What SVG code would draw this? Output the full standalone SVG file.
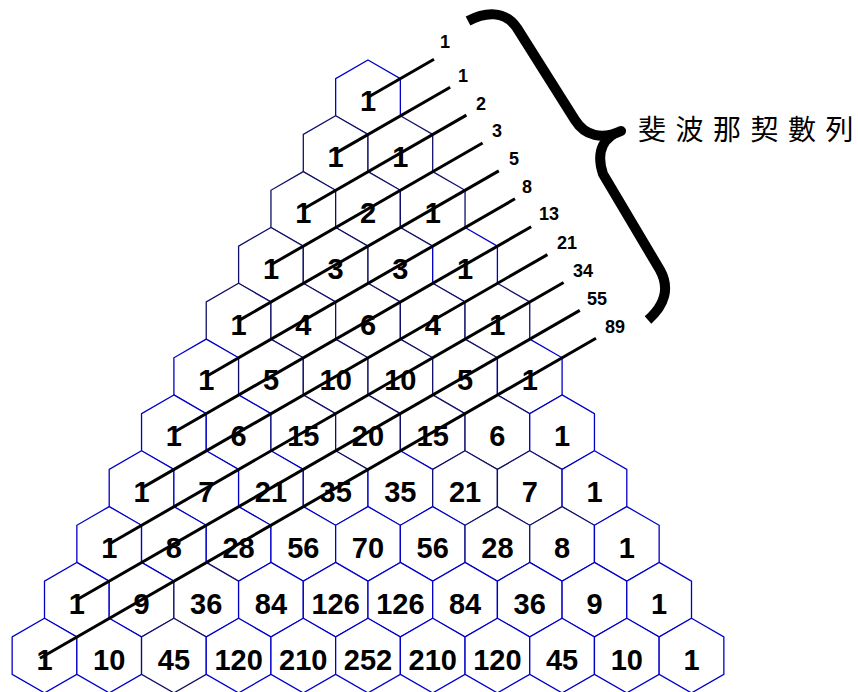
<svg xmlns="http://www.w3.org/2000/svg" xmlns:xlink="http://www.w3.org/1999/xlink" width="858" height="692" viewBox="0 0 858 692">
<style>
.hx{fill:#fff;stroke:#0000c8;stroke-width:1.3}
.hd{fill:#fff;stroke:#10106a;stroke-width:1.3}
.num{font-family:"Liberation Sans",Arial,sans-serif;font-weight:bold;font-size:29px;text-anchor:middle;fill:#000}
.fib{font-family:"Liberation Sans",Arial,sans-serif;font-weight:bold;font-size:18px;fill:#000}
.diag{stroke:#000;stroke-width:3;fill:none;stroke-linecap:butt}
.brace{stroke:#000;stroke-width:10;fill:none;stroke-linejoin:round;stroke-linecap:butt}
.title{font-family:"Noto Sans CJK TC","Noto Sans CJK SC",sans-serif;font-size:28px;fill:#000}
</style>
<defs>
<polygon id="hex" points="0,-37.35 32.35,-18.68 32.35,18.68 0,37.35 -32.35,18.68 -32.35,-18.68"/>
</defs>
<rect width="858" height="692" fill="#fff"/>
<g id="nodes">
<g id="n0-0"><use xlink:href="#hex" class="hx" x="368" y="97.3"/><text class="num" x="368" y="111.3">1</text></g>
<g id="n1-0"><use xlink:href="#hex" class="hd" x="335.65" y="153.13"/><text class="num" x="335.65" y="167.13">1</text></g>
<g id="n1-1"><use xlink:href="#hex" class="hd" x="400.35" y="153.13"/><text class="num" x="400.35" y="167.13">1</text></g>
<g id="n2-0"><use xlink:href="#hex" class="hd" x="303.3" y="208.96"/><text class="num" x="303.3" y="222.96">1</text></g>
<g id="n2-1"><use xlink:href="#hex" class="hd" x="368" y="208.96"/><text class="num" x="368" y="222.96">2</text></g>
<g id="n2-2"><use xlink:href="#hex" class="hd" x="432.7" y="208.96"/><text class="num" x="432.7" y="222.96">1</text></g>
<g id="n3-0"><use xlink:href="#hex" class="hd" x="270.95" y="264.79"/><text class="num" x="270.95" y="278.79">1</text></g>
<g id="n3-1"><use xlink:href="#hex" class="hd" x="335.65" y="264.79"/><text class="num" x="335.65" y="278.79">3</text></g>
<g id="n3-2"><use xlink:href="#hex" class="hd" x="400.35" y="264.79"/><text class="num" x="400.35" y="278.79">3</text></g>
<g id="n3-3"><use xlink:href="#hex" class="hx" x="465.05" y="264.79"/><text class="num" x="465.05" y="278.79">1</text></g>
<g id="n4-0"><use xlink:href="#hex" class="hd" x="238.6" y="320.62"/><text class="num" x="238.6" y="334.62">1</text></g>
<g id="n4-1"><use xlink:href="#hex" class="hd" x="303.3" y="320.62"/><text class="num" x="303.3" y="334.62">4</text></g>
<g id="n4-2"><use xlink:href="#hex" class="hd" x="368" y="320.62"/><text class="num" x="368" y="334.62">6</text></g>
<g id="n4-3"><use xlink:href="#hex" class="hd" x="432.7" y="320.62"/><text class="num" x="432.7" y="334.62">4</text></g>
<g id="n4-4"><use xlink:href="#hex" class="hd" x="497.4" y="320.62"/><text class="num" x="497.4" y="334.62">1</text></g>
<g id="n5-0"><use xlink:href="#hex" class="hx" x="206.25" y="376.45"/><text class="num" x="206.25" y="390.45">1</text></g>
<g id="n5-1"><use xlink:href="#hex" class="hd" x="270.95" y="376.45"/><text class="num" x="270.95" y="390.45">5</text></g>
<g id="n5-2"><use xlink:href="#hex" class="hd" x="335.65" y="376.45"/><text class="num" x="335.65" y="390.45">10</text></g>
<g id="n5-3"><use xlink:href="#hex" class="hd" x="400.35" y="376.45"/><text class="num" x="400.35" y="390.45">10</text></g>
<g id="n5-4"><use xlink:href="#hex" class="hd" x="465.05" y="376.45"/><text class="num" x="465.05" y="390.45">5</text></g>
<g id="n5-5"><use xlink:href="#hex" class="hx" x="529.75" y="376.45"/><text class="num" x="529.75" y="390.45">1</text></g>
<g id="n6-0"><use xlink:href="#hex" class="hx" x="173.9" y="432.28"/><text class="num" x="173.9" y="446.28">1</text></g>
<g id="n6-1"><use xlink:href="#hex" class="hx" x="238.6" y="432.28"/><text class="num" x="238.6" y="446.28">6</text></g>
<g id="n6-2"><use xlink:href="#hex" class="hd" x="303.3" y="432.28"/><text class="num" x="303.3" y="446.28">15</text></g>
<g id="n6-3"><use xlink:href="#hex" class="hd" x="368" y="432.28"/><text class="num" x="368" y="446.28">20</text></g>
<g id="n6-4"><use xlink:href="#hex" class="hd" x="432.7" y="432.28"/><text class="num" x="432.7" y="446.28">15</text></g>
<g id="n6-5"><use xlink:href="#hex" class="hd" x="497.4" y="432.28"/><text class="num" x="497.4" y="446.28">6</text></g>
<g id="n6-6"><use xlink:href="#hex" class="hx" x="562.1" y="432.28"/><text class="num" x="562.1" y="446.28">1</text></g>
<g id="n7-0"><use xlink:href="#hex" class="hx" x="141.55" y="488.11"/><text class="num" x="141.55" y="502.11">1</text></g>
<g id="n7-1"><use xlink:href="#hex" class="hx" x="206.25" y="488.11"/><text class="num" x="206.25" y="502.11">7</text></g>
<g id="n7-2"><use xlink:href="#hex" class="hx" x="270.95" y="488.11"/><text class="num" x="270.95" y="502.11">21</text></g>
<g id="n7-3"><use xlink:href="#hex" class="hd" x="335.65" y="488.11"/><text class="num" x="335.65" y="502.11">35</text></g>
<g id="n7-4"><use xlink:href="#hex" class="hx" x="400.35" y="488.11"/><text class="num" x="400.35" y="502.11">35</text></g>
<g id="n7-5"><use xlink:href="#hex" class="hd" x="465.05" y="488.11"/><text class="num" x="465.05" y="502.11">21</text></g>
<g id="n7-6"><use xlink:href="#hex" class="hd" x="529.75" y="488.11"/><text class="num" x="529.75" y="502.11">7</text></g>
<g id="n7-7"><use xlink:href="#hex" class="hx" x="594.45" y="488.11"/><text class="num" x="594.45" y="502.11">1</text></g>
<g id="n8-0"><use xlink:href="#hex" class="hx" x="109.2" y="543.94"/><text class="num" x="109.2" y="557.94">1</text></g>
<g id="n8-1"><use xlink:href="#hex" class="hx" x="173.9" y="543.94"/><text class="num" x="173.9" y="557.94">8</text></g>
<g id="n8-2"><use xlink:href="#hex" class="hx" x="238.6" y="543.94"/><text class="num" x="238.6" y="557.94">28</text></g>
<g id="n8-3"><use xlink:href="#hex" class="hx" x="303.3" y="543.94"/><text class="num" x="303.3" y="557.94">56</text></g>
<g id="n8-4"><use xlink:href="#hex" class="hx" x="368" y="543.94"/><text class="num" x="368" y="557.94">70</text></g>
<g id="n8-5"><use xlink:href="#hex" class="hx" x="432.7" y="543.94"/><text class="num" x="432.7" y="557.94">56</text></g>
<g id="n8-6"><use xlink:href="#hex" class="hd" x="497.4" y="543.94"/><text class="num" x="497.4" y="557.94">28</text></g>
<g id="n8-7"><use xlink:href="#hex" class="hd" x="562.1" y="543.94"/><text class="num" x="562.1" y="557.94">8</text></g>
<g id="n8-8"><use xlink:href="#hex" class="hx" x="626.8" y="543.94"/><text class="num" x="626.8" y="557.94">1</text></g>
<g id="n9-0"><use xlink:href="#hex" class="hx" x="76.85" y="599.77"/><text class="num" x="76.85" y="613.77">1</text></g>
<g id="n9-1"><use xlink:href="#hex" class="hx" x="141.55" y="599.77"/><text class="num" x="141.55" y="613.77">9</text></g>
<g id="n9-2"><use xlink:href="#hex" class="hd" x="206.25" y="599.77"/><text class="num" x="206.25" y="613.77">36</text></g>
<g id="n9-3"><use xlink:href="#hex" class="hx" x="270.95" y="599.77"/><text class="num" x="270.95" y="613.77">84</text></g>
<g id="n9-4"><use xlink:href="#hex" class="hx" x="335.65" y="599.77"/><text class="num" x="335.65" y="613.77">126</text></g>
<g id="n9-5"><use xlink:href="#hex" class="hx" x="400.35" y="599.77"/><text class="num" x="400.35" y="613.77">126</text></g>
<g id="n9-6"><use xlink:href="#hex" class="hx" x="465.05" y="599.77"/><text class="num" x="465.05" y="613.77">84</text></g>
<g id="n9-7"><use xlink:href="#hex" class="hx" x="529.75" y="599.77"/><text class="num" x="529.75" y="613.77">36</text></g>
<g id="n9-8"><use xlink:href="#hex" class="hx" x="594.45" y="599.77"/><text class="num" x="594.45" y="613.77">9</text></g>
<g id="n9-9"><use xlink:href="#hex" class="hx" x="659.15" y="599.77"/><text class="num" x="659.15" y="613.77">1</text></g>
<g id="n10-0"><use xlink:href="#hex" class="hx" x="44.5" y="655.6"/><text class="num" x="44.5" y="669.6">1</text></g>
<g id="n10-1"><use xlink:href="#hex" class="hx" x="109.2" y="655.6"/><text class="num" x="109.2" y="669.6">10</text></g>
<g id="n10-2"><use xlink:href="#hex" class="hd" x="173.9" y="655.6"/><text class="num" x="173.9" y="669.6">45</text></g>
<g id="n10-3"><use xlink:href="#hex" class="hx" x="238.6" y="655.6"/><text class="num" x="238.6" y="669.6">120</text></g>
<g id="n10-4"><use xlink:href="#hex" class="hx" x="303.3" y="655.6"/><text class="num" x="303.3" y="669.6">210</text></g>
<g id="n10-5"><use xlink:href="#hex" class="hx" x="368" y="655.6"/><text class="num" x="368" y="669.6">252</text></g>
<g id="n10-6"><use xlink:href="#hex" class="hx" x="432.7" y="655.6"/><text class="num" x="432.7" y="669.6">210</text></g>
<g id="n10-7"><use xlink:href="#hex" class="hx" x="497.4" y="655.6"/><text class="num" x="497.4" y="669.6">120</text></g>
<g id="n10-8"><use xlink:href="#hex" class="hx" x="562.1" y="655.6"/><text class="num" x="562.1" y="669.6">45</text></g>
<g id="n10-9"><use xlink:href="#hex" class="hx" x="626.8" y="655.6"/><text class="num" x="626.8" y="669.6">10</text></g>
<g id="n10-10"><use xlink:href="#hex" class="hx" x="691.5" y="655.6"/><text class="num" x="691.5" y="669.6">1</text></g>
</g>
<g id="connectors">
<line class="diag" x1="368" y1="97.3" x2="434" y2="59.3"/>
<line class="diag" x1="335.65" y1="153.13" x2="450.2" y2="87.2"/>
<line class="diag" x1="303.3" y1="208.96" x2="466.4" y2="115.1"/>
<line class="diag" x1="270.95" y1="264.79" x2="482.6" y2="143"/>
<line class="diag" x1="238.6" y1="320.62" x2="498.8" y2="170.9"/>
<line class="diag" x1="206.25" y1="376.45" x2="515" y2="198.8"/>
<line class="diag" x1="173.9" y1="432.28" x2="531.2" y2="226.7"/>
<line class="diag" x1="141.55" y1="488.11" x2="547.4" y2="254.6"/>
<line class="diag" x1="109.2" y1="543.94" x2="563.6" y2="282.5"/>
<line class="diag" x1="76.85" y1="599.77" x2="579.8" y2="310.4"/>
<line class="diag" x1="40" y1="658.2" x2="596" y2="338.3"/>
</g>
<g id="fib-labels">
<text class="fib" x="440" y="48">1</text>
<text class="fib" x="458" y="82">1</text>
<text class="fib" x="476" y="110">2</text>
<text class="fib" x="492" y="137">3</text>
<text class="fib" x="509" y="164.5">5</text>
<text class="fib" x="522" y="193">8</text>
<text class="fib" x="539" y="220">13</text>
<text class="fib" x="557" y="248.5">21</text>
<text class="fib" x="573" y="276.5">34</text>
<text class="fib" x="587" y="305">55</text>
<text class="fib" x="605" y="333.3">89</text>
</g>
<g id="brace">
<path class="brace" d="M 468,21 C 485,12 505,10 517,28 L 575,120 C 585,136 602,140 621,131 C 605,136 595,150 603,174 L 660,270 C 670,288 665,305 648,320"/>
</g>
<g id="title">
<text class="title" x="638 675.5 713 750.5 788 825.5" y="139.5">斐波那契數列</text>
</g>
</svg>
